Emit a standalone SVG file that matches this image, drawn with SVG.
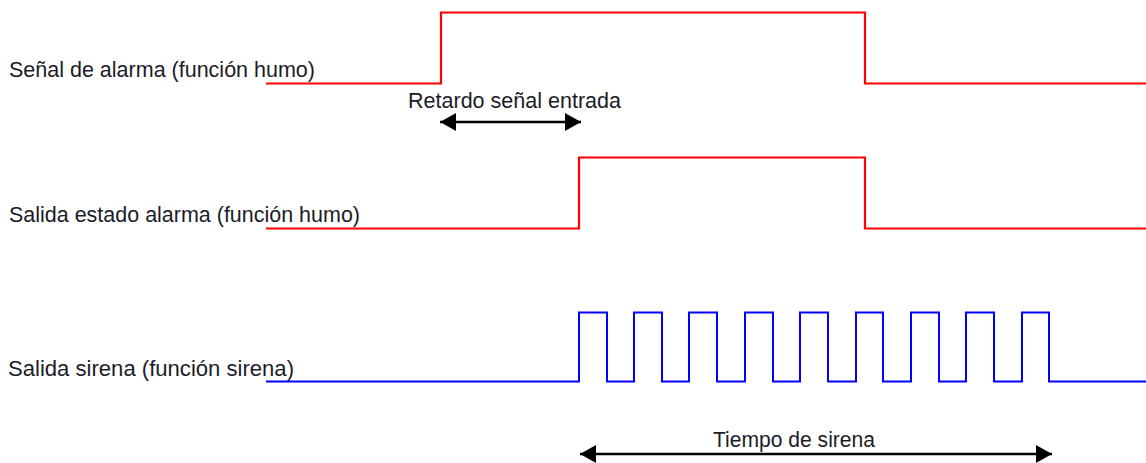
<svg xmlns="http://www.w3.org/2000/svg" width="1146" height="463" viewBox="0 0 1146 463">
<style>
text{font-family:"Liberation Sans",Arial,sans-serif;font-size:21.5px;fill:#1c1c28}
.red{fill:none;stroke:#ff0000;stroke-width:2.2}
.blue{fill:none;stroke:#0000ff;stroke-width:2}
.arr{fill:none;stroke:#000;stroke-width:2.5}
</style>
<defs>
<marker id="ah" markerUnits="userSpaceOnUse" markerWidth="16" markerHeight="18" refX="16" refY="9" orient="auto-start-reverse" viewBox="0 0 16 18">
<path d="M0,0 L16,9 L0,18 z" fill="#000"/>
</marker>
</defs>
<rect width="1146" height="463" fill="#fff"/>
<g id="senal-alarma">
<text x="9" y="77" textLength="306" lengthAdjust="spacingAndGlyphs">Señal de alarma (función humo)</text>
<path class="red" d="M266,83.5 H441 V12.5 H865 V83.5 H1146"/>
</g>
<g id="salida-estado">
<text x="9" y="222" textLength="351" lengthAdjust="spacingAndGlyphs">Salida estado alarma (función humo)</text>
<path class="red" d="M266,228.5 H579 V157.5 H865 V228.5 H1146"/>
</g>
<g id="salida-sirena">
<text x="8" y="376" textLength="286" lengthAdjust="spacingAndGlyphs">Salida sirena (función sirena)</text>
<path class="blue" d="M266,381.5 H579 V312.5 H607 V381.5 H634 V312.5 H662 V381.5 H689 V312.5 H717 V381.5 H745 V312.5 H773 V381.5 H800 V312.5 H828 V381.5 H856 V312.5 H883 V381.5 H911 V312.5 H939 V381.5 H966 V312.5 H994 V381.5 H1022 V312.5 H1049 V381.5 H1146"/>
</g>
<g id="connectors">
<g id="retardo">
<text x="408" y="108" textLength="213" lengthAdjust="spacingAndGlyphs">Retardo señal entrada</text>
<line class="arr" x1="440" y1="122" x2="581" y2="122" marker-start="url(#ah)" marker-end="url(#ah)"/>
</g>
<g id="tiempo-sirena">
<text x="713" y="447" textLength="162" lengthAdjust="spacingAndGlyphs">Tiempo de sirena</text>
<line class="arr" x1="580" y1="454" x2="1052" y2="454" marker-start="url(#ah)" marker-end="url(#ah)"/>
</g>
</g>
</svg>
